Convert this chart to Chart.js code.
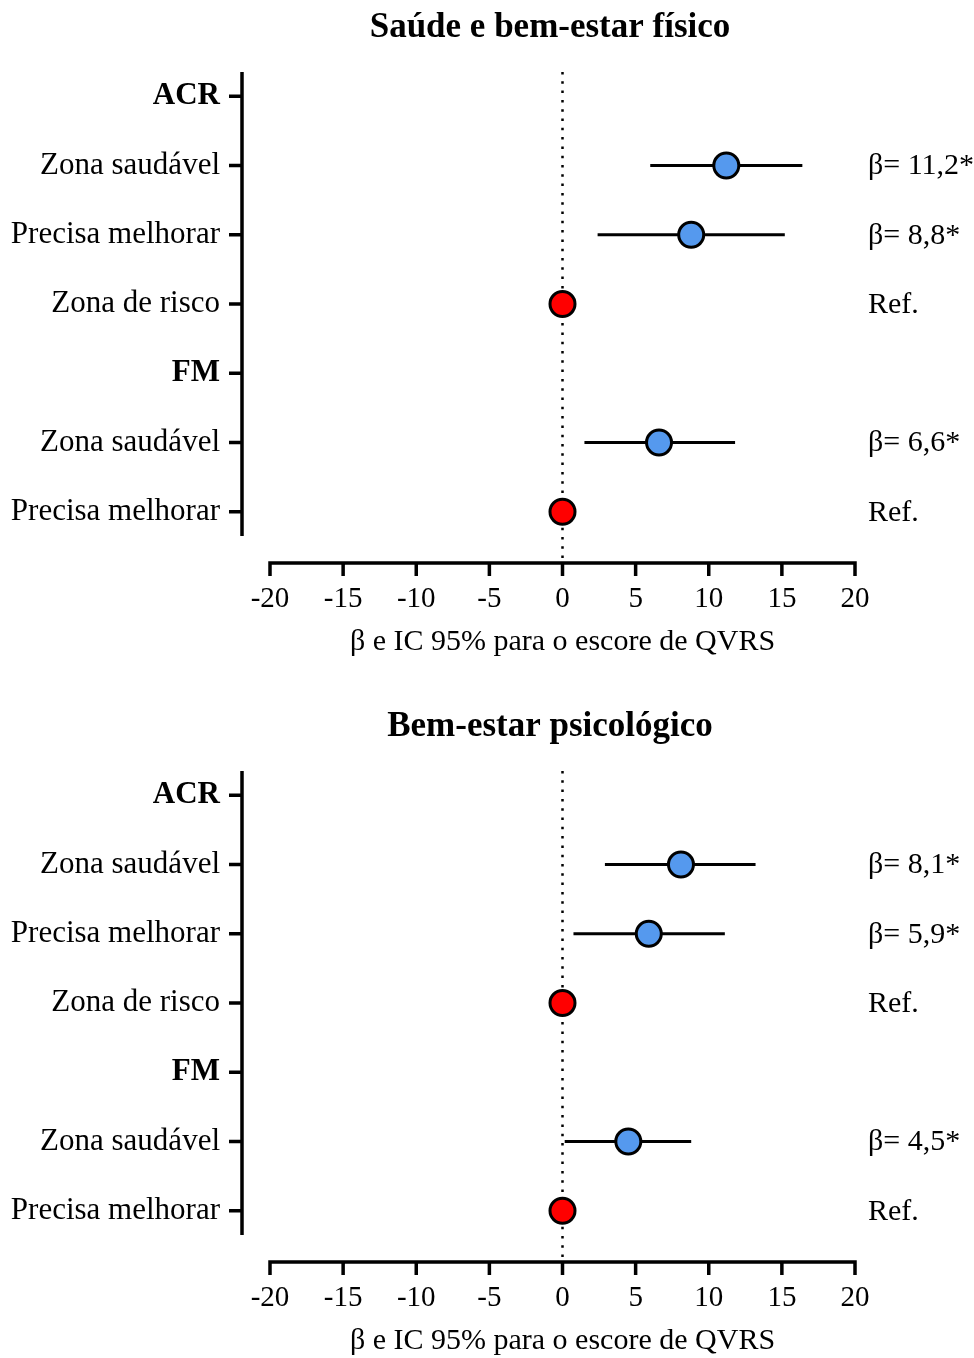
<!DOCTYPE html>
<html>
<head>
<meta charset="utf-8">
<script src="https://cdn.jsdelivr.net/npm/chart.js@4.4.1/dist/chart.umd.min.js"></script>
<style>
  body { margin: 0; background: #fff; }
  #wrap { position: relative; width: 974px; height: 1358px; overflow: hidden; }
  canvas { position: absolute; left: 0; }
</style>
</head>
<body>
<div id="wrap">
  <canvas id="fisico" width="974" height="660" style="top:0"></canvas>
  <canvas id="psico" width="974" height="660" style="top:699px"></canvas>
</div>
<script>
// rows, top to bottom
var rowLabels = ['ACR', 'Zona saudável', 'Precisa melhorar', 'Zona de risco', 'FM', 'Zona saudável', 'Precisa melhorar'];
var headerRow = [true, false, false, false, true, false, false];
var refRow = [false, false, false, true, false, false, true];

var xMin = -20, xMax = 20, xStep = 5;
var axisTitle = 'β e IC 95% para o escore de QVRS';

// Saúde e bem-estar físico
var fisicoTitle = 'Saúde e bem-estar físico';
var fisicoBeta = [null, 11.2, 8.8, 0, null, 6.6, 0];
var fisicoLow = [null, 6.0, 2.4, null, null, 1.5, null];
var fisicoHigh = [null, 16.4, 15.2, null, null, 11.8, null];
var fisicoText = ['', 'β= 11,2*', 'β= 8,8*', 'Ref.', '', 'β= 6,6*', 'Ref.'];

// Bem-estar psicológico
var psicoTitle = 'Bem-estar psicológico';
var psicoBeta = [null, 8.1, 5.9, 0, null, 4.5, 0];
var psicoLow = [null, 2.9, 0.75, null, null, 0.15, null];
var psicoHigh = [null, 13.2, 11.1, null, null, 8.8, null];
var psicoText = ['', 'β= 8,1*', 'β= 5,9*', 'Ref.', '', 'β= 4,5*', 'Ref.'];

var SERIF = '"Liberation Serif", "Times New Roman", serif';

// offset axes, CI whiskers, zero line, titles and side labels
var forestPlugin = {
	id: 'forest',
	beforeDatasetsDraw: function(chart, args, opts) {
		var ctx = chart.ctx, a = chart.chartArea;
		var xs = chart.scales.x, ys = chart.scales.y;
		var axisY = a.bottom + 27;
		var yAxisX = a.left - 28;
		ctx.save();
		ctx.strokeStyle = '#000';
		ctx.lineWidth = 3.5;

		// y axis + ticks
		ctx.beginPath();
		ctx.moveTo(yAxisX, a.top);
		ctx.lineTo(yAxisX, a.bottom);
		rowLabels.forEach(function(l, i) {
			var y = ys.getPixelForValue(i);
			ctx.moveTo(yAxisX - 13, y);
			ctx.lineTo(yAxisX, y);
		});
		ctx.stroke();

		// x axis + ticks
		ctx.beginPath();
		ctx.moveTo(xs.getPixelForValue(xMin) - 1.75, axisY);
		ctx.lineTo(xs.getPixelForValue(xMax) + 1.75, axisY);
		for (var v = xMin; v <= xMax; v += xStep) {
			var px = xs.getPixelForValue(v);
			ctx.moveTo(px, axisY);
			ctx.lineTo(px, axisY + 13);
		}
		ctx.stroke();

		// dotted zero line
		ctx.beginPath();
		ctx.setLineDash([2.5, 6.8]);
		ctx.lineWidth = 2.5;
		var x0 = xs.getPixelForValue(0);
		ctx.moveTo(x0, a.top);
		ctx.lineTo(x0, axisY);
		ctx.stroke();
		ctx.setLineDash([]);

		// confidence intervals
		ctx.lineWidth = 3;
		ctx.beginPath();
		opts.low.forEach(function(lo, i) {
			if (lo === null) return;
			var y = ys.getPixelForValue(i);
			ctx.moveTo(xs.getPixelForValue(lo), y);
			ctx.lineTo(xs.getPixelForValue(opts.high[i]), y);
		});
		ctx.stroke();
		ctx.restore();
	},
	afterDraw: function(chart, args, opts) {
		var ctx = chart.ctx, a = chart.chartArea, ys = chart.scales.y;
		ctx.save();
		ctx.fillStyle = '#000';
		ctx.font = 'bold 35px ' + SERIF;
		ctx.textAlign = 'center';
		ctx.textBaseline = 'middle';
		ctx.fillText(opts.title, 550, 28);

		ctx.font = '30px ' + SERIF;
		ctx.textAlign = 'left';
		opts.text.forEach(function(t, i) {
			if (!t) return;
			ctx.fillText(t, a.right + 13, ys.getPixelForValue(i) + 1);
		});
		ctx.restore();
	}
};

function makeChart(id, title, beta, low, high, text) {
	var pts = [];
	beta.forEach(function(b, i) {
		if (b !== null) pts.push({x: b, y: i, ref: refRow[i]});
	});

	var config = {
		type: 'scatter',
		data: {
			datasets: [{
				data: pts,
				pointRadius: 12.5,
				pointHoverRadius: 12.5,
				borderWidth: 3,
				borderColor: '#000',
				backgroundColor: function(c) {
					return c.raw && c.raw.ref ? '#FF0000' : '#5599EE';
				}
			}]
		},
		options: {
			responsive: false,
			animation: false,
			layout: { padding: { top: 72, right: 119, left: 0, bottom: 0 } },
			plugins: {
				legend: { display: false },
				tooltip: { enabled: false },
				forest: { title: title, low: low, high: high, text: text }
			},
			scales: {
				x: {
					type: 'linear',
					min: xMin,
					max: xMax,
					ticks: {
						stepSize: xStep,
						padding: 46,
						color: '#000',
						font: { family: SERIF, size: 29 }
					},
					grid: { display: false, drawTicks: false },
					border: { display: false },
					title: {
						display: true,
						text: axisTitle,
						color: '#000',
						font: { family: SERIF, size: 30 },
						padding: { top: 0, bottom: 0 }
					},
					afterFit: function(s) { s.height = 124; }
				},
				y: {
					type: 'linear',
					reverse: true,
					min: -0.35,
					max: rowLabels.length - 1 + 0.35,
					afterBuildTicks: function(s) {
						s.ticks = rowLabels.map(function(l, i) { return {value: i}; });
					},
					ticks: {
						padding: 50,
						color: '#000',
						callback: function(v) { return rowLabels[v]; },
						font: function(c) {
							return { family: SERIF, size: 31, weight: headerRow[c.index] ? 'bold' : 'normal' };
						}
					},
					grid: { display: false, drawTicks: false },
					border: { display: false },
					afterFit: function(s) { s.width = 270; }
				}
			}
		},
		plugins: [forestPlugin]
	};

	return new Chart(document.getElementById(id).getContext('2d'), config);
}

makeChart('fisico', fisicoTitle, fisicoBeta, fisicoLow, fisicoHigh, fisicoText);
makeChart('psico', psicoTitle, psicoBeta, psicoLow, psicoHigh, psicoText);
</script>
</body>
</html>
